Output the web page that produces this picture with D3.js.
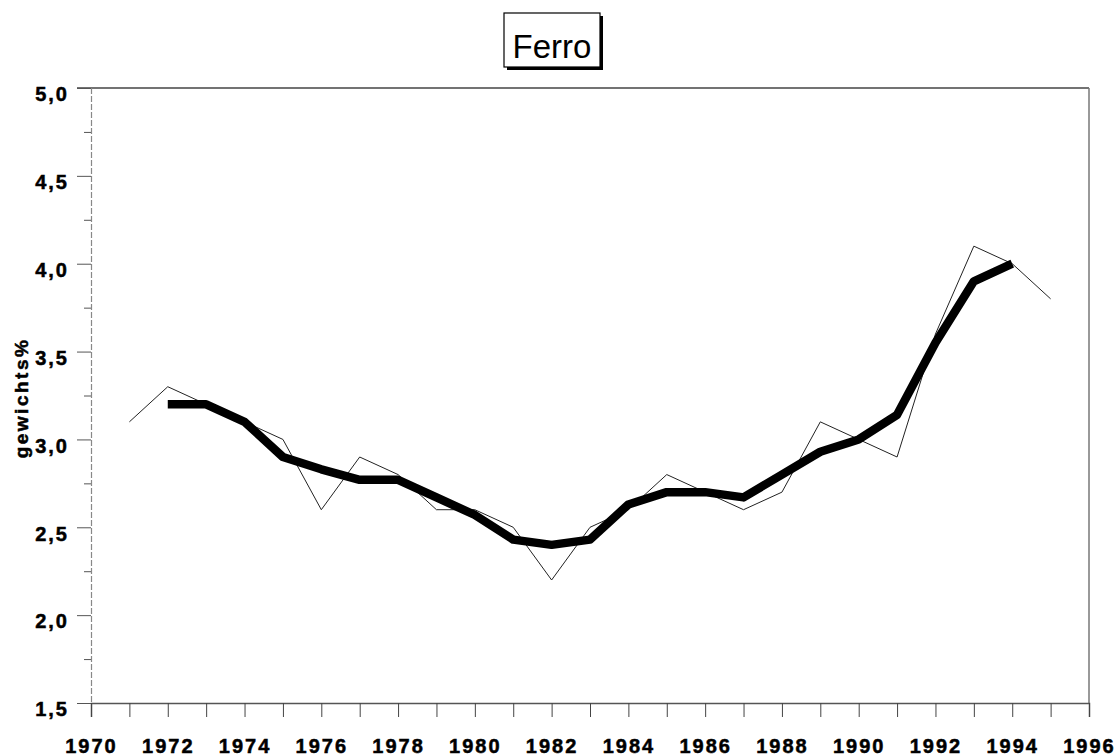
<!DOCTYPE html>
<html>
<head>
<meta charset="utf-8">
<script src="https://cdn.jsdelivr.net/npm/d3@7"></script>
<style>
  html, body { margin: 0; padding: 0; background: #fff; }
  svg { display: block; font-family: "Liberation Sans", Arial, sans-serif; }
</style>
</head>
<body>
<div id="chart"></div>
<script>
// annual values (thin line)
const years = [1971, 1972, 1973, 1974, 1975, 1976, 1977, 1978, 1979, 1980, 1981, 1982, 1983,
  1984, 1985, 1986, 1987, 1988, 1989, 1990, 1991, 1992, 1993, 1994, 1995];
const annual = [3.1, 3.3, 3.2, 3.1, 3.0, 2.6, 2.9, 2.8, 2.6, 2.6, 2.5, 2.2, 2.5,
  2.6, 2.8, 2.7, 2.6, 2.7, 3.1, 3.0, 2.9, 3.6, 4.1, 4.0, 3.8];

// smoothed values (thick line)
const smoothYears = [1972, 1973, 1974, 1975, 1976, 1977, 1978, 1979, 1980, 1981, 1982, 1983,
  1984, 1985, 1986, 1987, 1988, 1989, 1990, 1991, 1992, 1993, 1994];
const smoothed = [3.2, 3.2, 3.1, 2.9, 2.83, 2.77, 2.77, 2.67, 2.57, 2.43, 2.4, 2.43,
  2.63, 2.7, 2.7, 2.67, 2.8, 2.93, 3.0, 3.14, 3.55, 3.9, 4.0];

const xTicksMajor = [1970, 1972, 1974, 1976, 1978, 1980, 1982, 1984, 1986, 1988, 1990, 1992, 1994, 1996];
const yTicksMajor = [1.5, 2.0, 2.5, 3.0, 3.5, 4.0, 4.5, 5.0];
const yTicksMinor = [1.75, 2.25, 2.75, 3.25, 3.75, 4.25, 4.75];

const title = 'Ferro';
const yTitle = 'gewichts%';

const width = 1117, height = 756;
const margin = { top: 88, right: 28, bottom: 53, left: 91 };

const svg = d3.select('#chart').append('svg')
  .attr('width', width)
  .attr('height', height);

const x = d3.scaleLinear().domain([1970, 1996]).range([margin.left, width - margin.right]);
const y = d3.scaleLinear().domain([1.5, 5.0]).range([height - margin.bottom, margin.top]);

const locale = d3.formatLocale({ decimal: ',', thousands: '.', grouping: [3], currency: ['', ''] });
const fmt = locale.format('.1f');

// frame (top + right)
svg.append('line')
  .attr('x1', x(1970) - 14).attr('x2', x(1996))
  .attr('y1', y(5)).attr('y2', y(5))
  .attr('stroke', '#444').attr('stroke-width', 1.5);
svg.append('line')
  .attr('x1', x(1996)).attr('x2', x(1996))
  .attr('y1', y(5)).attr('y2', y(1.5))
  .attr('stroke', '#777').attr('stroke-width', 1.5);

// y axis: minor ticks
svg.append('g')
  .attr('transform', `translate(${x(1970)},0)`)
  .call(d3.axisLeft(y).tickValues(yTicksMinor).tickSize(7).tickFormat(''))
  .call(g => g.select('.domain').remove())
  .call(g => g.selectAll('line').attr('stroke', '#555'));

// y axis: major ticks + labels
svg.append('g')
  .attr('transform', `translate(${x(1970)},0)`)
  .call(d3.axisLeft(y).tickValues(yTicksMajor).tickSize(14).tickPadding(8).tickFormat(fmt))
  .call(g => g.select('.domain')
    .attr('stroke', '#888').attr('stroke-dasharray', '6,2').attr('stroke-width', 1.2))
  .call(g => g.selectAll('line').attr('stroke', '#555'))
  .call(g => g.selectAll('text')
    .attr('font-size', 20).attr('font-weight', 'bold').attr('fill', '#000')
    .attr('stroke', '#000').attr('stroke-width', 0.5)
    .attr('letter-spacing', '2px').attr('dy', '0.64em'));

// x axis: every year tick
svg.append('g')
  .attr('transform', `translate(0,${y(1.5)})`)
  .call(d3.axisBottom(x).tickValues(d3.range(1970, 1997)).tickSize(14).tickFormat(''))
  .call(g => g.select('.domain').attr('stroke', '#555').attr('stroke-width', 1.5))
  .call(g => g.selectAll('line').attr('stroke', '#444'));

// x axis labels
svg.append('g')
  .attr('transform', `translate(0,${y(1.5)})`)
  .call(d3.axisBottom(x).tickValues(xTicksMajor).tickSize(0).tickPadding(36).tickFormat(d3.format('d')))
  .call(g => g.select('.domain').remove())
  .call(g => g.selectAll('text')
    .attr('font-size', 20).attr('font-weight', 'bold').attr('fill', '#000')
    .attr('stroke', '#000').attr('stroke-width', 0.5)
    .attr('letter-spacing', '2px'));

// y title
svg.append('text')
  .attr('transform', `translate(28,${398}) rotate(-90)`)
  .attr('text-anchor', 'middle')
  .attr('font-size', 19).attr('font-weight', 'bold')
  .attr('stroke', '#000').attr('stroke-width', 0.5)
  .attr('letter-spacing', '2.5px')
  .text(yTitle);

// lines
const thinLine = d3.line().x((d, i) => x(years[i])).y(d => y(d));
svg.append('path')
  .datum(annual)
  .attr('d', thinLine)
  .attr('fill', 'none')
  .attr('stroke', '#222')
  .attr('stroke-width', 1);

const thickLine = d3.line().x((d, i) => x(smoothYears[i])).y(d => y(d));
svg.append('path')
  .datum(smoothed)
  .attr('d', thickLine)
  .attr('fill', 'none')
  .attr('stroke', '#000')
  .attr('stroke-width', 8.5)
  .attr('stroke-linejoin', 'round');

// title box with shadow
const tb = { x: 504, y: 13, w: 96, h: 54 };
svg.append('rect')
  .attr('x', tb.x + 3).attr('y', tb.y + 3).attr('width', tb.w).attr('height', tb.h)
  .attr('fill', '#000');
svg.append('rect')
  .attr('x', tb.x).attr('y', tb.y).attr('width', tb.w).attr('height', tb.h)
  .attr('fill', '#fff').attr('stroke', '#000').attr('stroke-width', 1.2);
svg.append('text')
  .attr('x', tb.x + tb.w / 2).attr('y', tb.y + 45)
  .attr('text-anchor', 'middle')
  .attr('font-size', 33)
  .text(title);
</script>
</body>
</html>
